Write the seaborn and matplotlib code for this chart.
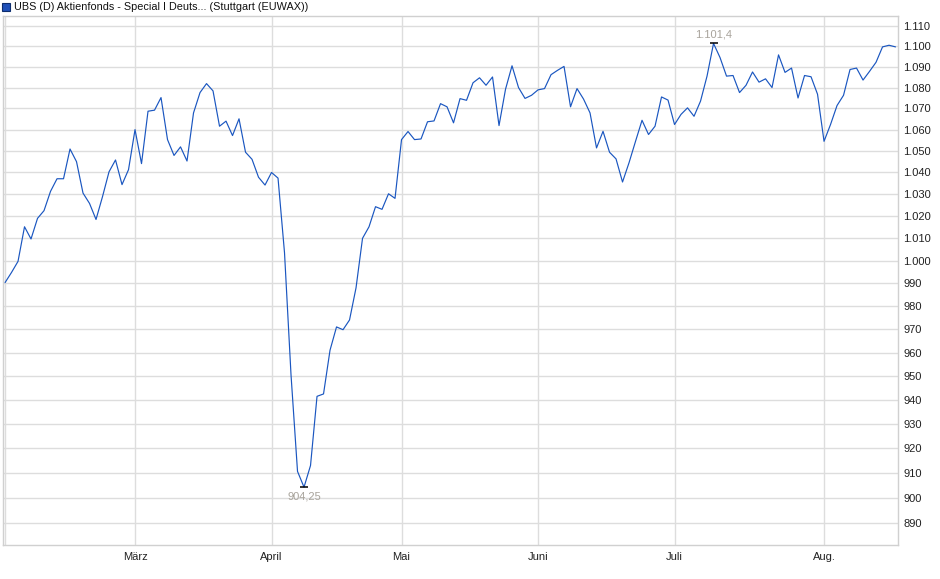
import numpy as np
import pandas as pd
import matplotlib
matplotlib.use("Agg")
import matplotlib.pyplot as plt
import seaborn as sns
from matplotlib.patches import Rectangle
from matplotlib.ticker import FixedLocator, NullLocator

kurs = [
    990.3, 994.8, 999.7, 1015.2, 1009.7, 1019.0, 1022.5, 1031.3, 1037.1, 1037.1,
    1050.9, 1045.0, 1030.5, 1025.8, 1018.5, 1028.9, 1040.3, 1045.8, 1034.4, 1041.3,
    1060.0, 1044.1, 1068.7, 1069.2, 1075.2, 1055.3, 1047.9, 1051.9, 1045.3, 1067.9,
    1077.6, 1081.9, 1078.4, 1061.6, 1064.0, 1057.2, 1065.1, 1049.4, 1046.1, 1037.8,
    1034.2, 1040.0, 1037.4, 1003.5, 950.5, 910.6, 904.25, 913.0, 941.5, 942.5,
    961.0, 971.0, 969.8, 974.0, 988.0, 1010.0, 1015.2, 1024.3, 1023.1, 1030.2,
    1028.1, 1055.3, 1059.1, 1055.3, 1055.6, 1063.7, 1064.1, 1072.3, 1070.8, 1063.2,
    1074.7, 1073.9, 1082.3, 1084.7, 1081.1, 1085.1, 1061.9, 1079.2, 1090.5, 1080.0,
    1074.8, 1076.3, 1078.9, 1079.5, 1086.2, 1088.3, 1090.2, 1070.8, 1079.5, 1074.5,
    1067.9, 1051.4, 1059.2, 1049.4, 1046.3, 1035.6, 1044.5, 1054.5, 1064.4, 1057.7,
    1061.6, 1075.5, 1074.0, 1062.4, 1067.2, 1070.3, 1066.3, 1073.5, 1085.5, 1101.4,
    1094.5, 1085.5, 1085.8, 1077.6, 1081.1, 1087.5, 1082.6, 1084.2, 1080.0, 1095.8,
    1087.3, 1089.4, 1075.0, 1085.8, 1085.2, 1076.8, 1054.5, 1062.4, 1071.4, 1076.3,
    1088.7, 1089.4, 1083.6, 1087.8, 1092.2, 1099.7, 1100.5, 1099.7,
]

# Handelstage Feb - Aug 2025 (ohne Karfreitag, Ostermontag, 1. Mai)
feiertage = ["2025-04-18", "2025-04-21", "2025-05-01"]
tage = pd.bdate_range("2025-02-03", "2025-08-18", freq="C", holidays=feiertage)

monatsnamen = {2: "", 3: "März", 4: "April", 5: "Mai", 6: "Juni", 7: "Juli", 8: "Aug."}
y_ticks = list(range(890, 1111, 10))

titel = "UBS (D) Aktienfonds - Special I Deuts... (Stuttgart (EUWAX))"
linienfarbe = "#1a56c0"


def de_zahl(v, stellen=0):
    s = f"{v:,.{stellen}f}"
    return s.replace(",", "X").replace(".", ",").replace("X", ".")


df = pd.DataFrame({"datum": tage[:len(kurs)], "kurs": kurs})
df["idx"] = np.arange(len(df))
monatsanfang = df.groupby(df["datum"].dt.month)["idx"].min()

sns.set_style("white")
plt.rcParams["font.family"] = ["Liberation Sans", "DejaVu Sans"]

fig = plt.figure(figsize=(9.4, 5.79), dpi=100)
ax = fig.add_axes([3 / 940, 34 / 579, 895 / 940, 529 / 579])

sns.lineplot(data=df, x="idx", y="kurs", ax=ax, color=linienfarbe, linewidth=0.85)

ax.set_yscale("log")
ax.set_ylim(881.3, 1114.9)
ax.set_xlim(-0.31, len(kurs) - 0.62)

ax.yaxis.set_major_locator(FixedLocator(y_ticks))
ax.yaxis.set_minor_locator(NullLocator())
ax.set_yticklabels([de_zahl(v) for v in y_ticks])
ax.yaxis.tick_right()

ax.set_xticks(monatsanfang.values)
ax.set_xticklabels([monatsnamen[m] for m in monatsanfang.index])

ax.tick_params(axis="y", length=0, pad=4, labelsize=8, colors="#222222")
ax.tick_params(axis="x", length=0, pad=5, labelsize=8, colors="#222222")
ax.set_xlabel("")
ax.set_ylabel("")
ax.grid(True, color="#dddddd", linewidth=1)
for sp in ax.spines.values():
    sp.set_color("#d0d0d0")
    sp.set_linewidth(1)

# Hoch / Tief markieren
i_max = int(np.argmax(kurs))
i_min = int(np.argmin(kurs))
ax.plot(i_max, kurs[i_max], marker="_", markersize=6, mew=1.1, color="black")
ax.plot(i_min, kurs[i_min], marker="_", markersize=6, mew=1.1, color="black")
ax.annotate(de_zahl(kurs[i_max], 1), (i_max, kurs[i_max]), xytext=(0, 3),
            textcoords="offset points", ha="center", va="bottom",
            color="#a8a39b", fontsize=8)
ax.annotate(de_zahl(kurs[i_min], 2), (i_min, kurs[i_min]), xytext=(0, -3),
            textcoords="offset points", ha="center", va="top",
            color="#a8a39b", fontsize=8)

# Legende oben links
fig.patches.append(Rectangle((2 / 940, 1 - 11 / 579), 8 / 940, 8 / 579,
                             transform=fig.transFigure, facecolor="#1f50b8",
                             edgecolor="#0d2d6e", linewidth=0.8))
fig.text(14 / 940, 1 - 7 / 579, titel, ha="left", va="center", fontsize=7.8,
         color="#111111")

fig.savefig("out.png", dpi=100)
